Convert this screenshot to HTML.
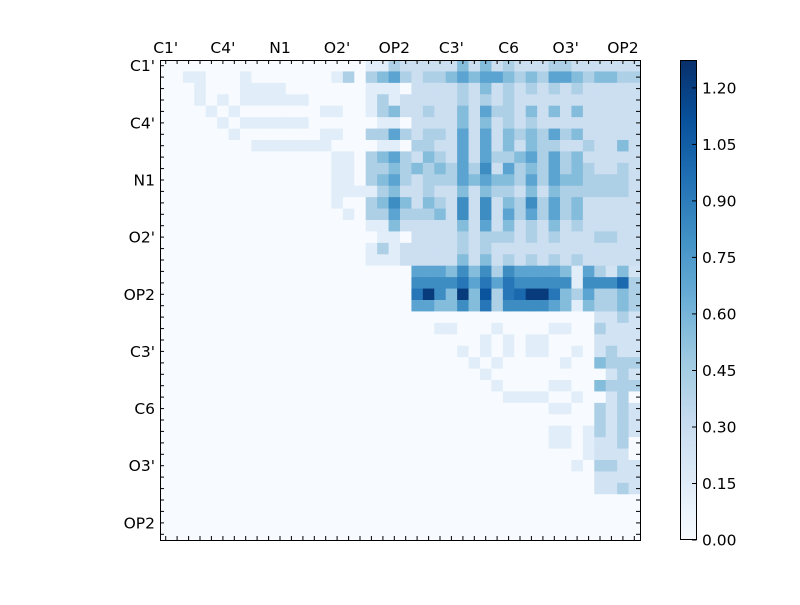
<!DOCTYPE html>
<html><head><meta charset="utf-8"><style>
body{margin:0;background:#fff;}
svg text{font-family:"DejaVu Sans","Liberation Sans",sans-serif;font-size:15.5px;fill:#000;}
</style></head><body>
<svg id="s" width="800" height="600" xmlns="http://www.w3.org/2000/svg">
<defs><linearGradient id="g" x1="0" y1="1" x2="0" y2="0">
<stop offset="0" stop-color="#f7fbff"/><stop offset="0.125" stop-color="#deebf7"/><stop offset="0.25" stop-color="#c6dbef"/><stop offset="0.375" stop-color="#9ecae1"/><stop offset="0.5" stop-color="#6baed6"/><stop offset="0.625" stop-color="#4292c6"/><stop offset="0.75" stop-color="#2171b5"/><stop offset="0.875" stop-color="#08519c"/><stop offset="1" stop-color="#08306b"/>
</linearGradient></defs>
<rect width="800" height="600" fill="#fff"/>
<g id="cells"></g>
<g id="ax"></g>
</svg>
<script>
var L=[
"000000000000000000112","001100010000000120234","000100011110000000111","000101011111100000121","000010100000001100123","000001011111100000011","000000100000001100224","000000001111111000011","000000000000000110234","000000000000000110223","000000000000000110234","000000000000000111123","000000000000000100235","000000000000000010224","000000000000000000113","000000000000000000011","000000000000000000121","000000000000000000111"];
var R=[
"111113131211122111111","212234344323244323322","011112131212121211111","111112121211111111111","112113142213131311111","011113131212111111111","212214141323242311111","022114141313221121131","213214142234242311111","232324251423242321121","212224343324243322221","112113132213132222221","313215151325242311111","222315151424242311111","111113141312131211111","011112122212121112211","111112121111111111111","111113131212121211111","044435352544443142131","055556464655555155572","069539382679963242232","044335362555543132232","000000000000000001121","000110001000011002111","000000010101100001111","000001010101100101211","000000101000001003222","000000010000000000121","000000001000011003222","000000000111100100120","000000000000011002121","000000000000000002121","000000000000011012121","000000000000011011120","000000000000000011110","000000000000000102211","000000000000000001111","000000000000000001121"];
var Z="000000000000000000000";
var vals=[0.0,0.14,0.42,0.56,0.7,0.82,0.93,1.0,1.1,1.22];
var stops=[[247,251,255],[222,235,247],[198,219,239],[158,202,225],[107,174,214],[66,146,198],[33,113,181],[8,81,156],[8,48,107]];
function col(v){var t=Math.min(1,v/1.274)*8;var i=Math.min(7,Math.floor(t)),f=t-i;var a=stops[i],b=stops[i+1];
return "rgb("+[0,1,2].map(function(k){return Math.round(a[k]+(b[k]-a[k])*f)}).join(",")+")";}
var h="",c=480/42;
for(var r=0;r<42;r++){var s=(L[r]||Z)+(R[r]||Z);
for(var j=0;j<42;j++){var d=+s[j]||0;var v=vals[d];
if(d==1&&j>=21&&r<18)v=0.28;
if(d==1&&(j>=38)&&r>=18)v=0.24;
h+='<rect x="'+(160+j*c).toFixed(2)+'" y="'+(60+r*c).toFixed(2)+'" width="'+(c+0.6).toFixed(2)+'" height="'+(c+0.6).toFixed(2)+'" fill="'+col(v)+'"/>';}}
document.getElementById("cells").innerHTML=h;
var a='<rect x="160.5" y="60.5" width="480" height="480" fill="none" stroke="#000" stroke-width="1"/>';
for(var i=0;i<42;i++){var p=(160+(i+0.5)*c).toFixed(1),q=(60+(i+0.5)*c).toFixed(1);
a+='<line x1="'+p+'" y1="60" x2="'+p+'" y2="64" stroke="#000"/><line x1="'+p+'" y1="540" x2="'+p+'" y2="536" stroke="#000"/>';
a+='<line x1="160" y1="'+q+'" x2="164" y2="'+q+'" stroke="#000"/><line x1="640" y1="'+q+'" x2="636" y2="'+q+'" stroke="#000"/>';}
var labs=["C1'","C4'","N1","O2'","OP2","C3'","C6","O3'","OP2"];
for(var i=0;i<9;i++){var p=160+(i*5+0.5)*c,q=60+(i*5+0.5)*c;
a+='<text x="'+p.toFixed(1)+'" y="53" text-anchor="middle">'+labs[i]+'</text>';
a+='<text x="155" y="'+(q+5.5).toFixed(1)+'" text-anchor="end">'+labs[i]+'</text>';}
a+='<rect x="680.5" y="60.5" width="16" height="479" fill="url(#g)" stroke="#000"/>';
var tl=["0.00","0.15","0.30","0.45","0.60","0.75","0.90","1.05","1.20"];
for(var i=0;i<9;i++){var y=540-i*0.15/1.274*480;
a+='<line x1="692" y1="'+y.toFixed(1)+'" x2="696.5" y2="'+y.toFixed(1)+'" stroke="#000"/>';
a+='<text x="702" y="'+(y+5.5).toFixed(1)+'">'+tl[i]+'</text>';}
document.getElementById("ax").innerHTML=a;
</script>
</body></html>
